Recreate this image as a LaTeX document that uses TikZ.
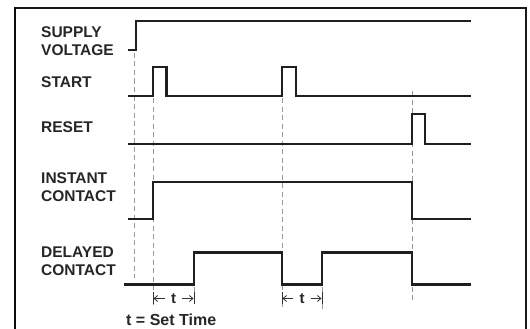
\documentclass[tikz,border=0pt]{standalone}
\usepackage{fontspec}
\setmainfont{Liberation Sans}
\usetikzlibrary{arrows.meta}
\begin{document}
\begin{tikzpicture}[x=1pt,y=-1pt,
  wave/.style={line width=2.4pt, line join=miter, draw=black!88},
  guide/.style={draw=black!40, line width=0.8pt, dash pattern=on 5pt off 3.5pt},
  lbl/.style={font=\bfseries\fontsize{15.5}{15.5}\selectfont, anchor=base west, inner sep=0pt, text=black!85},
  tlbl/.style={font=\bfseries\fontsize{15}{15}\selectfont, inner sep=0pt},
  dimarrow/.style={draw=black!80, line width=0.8pt, -{Straight Barb[length=3.5pt,width=6pt]}},
  tick/.style={draw=black!80, line width=0.8pt}]
\useasboundingbox (0,0) rectangle (530,329);
\fill[white] (0,0) rectangle (530,329);
% frame
\draw[line width=1.4pt, draw=black!90] (15,8) -- (526,8) -- (526,335);
\draw[line width=2.6pt, draw=black!95] (15,7.3) -- (15,335);
% labels
\node[lbl] (l1) at (41,38) {SUPPLY};
\node[lbl] (l2) at (41,55.5) {VOLTAGE};
\node[lbl] (l3) at (41,87) {START};
\node[lbl] (l4) at (41,132.5) {RESET};
\node[lbl] (l5) at (41,183) {INSTANT};
\node[lbl] (l6) at (41,201.5) {CONTACT};
\node[lbl] (l7) at (41,257.5) {DELAYED};
\node[lbl] (l8) at (41,275) {CONTACT};
\node[lbl, font=\bfseries\fontsize{16}{16}\selectfont] (l9) at (126,325) {t = Set Time};
% guides
\draw[guide] (134,53) -- (134,278);
\draw[guide] (153,98) -- (153,305);
\draw[guide] (194,287) -- (194,304);
\draw[guide] (282,98) -- (282,310);
\draw[guide] (322,287) -- (322,310);
\draw[guide] (412,91) -- (412,302);
% waveforms
\draw[wave] (128,50) -- (136,50) -- (136,21) -- (471,21);
\draw[wave] (128,96) -- (153,96) -- (153,67) -- (166.5,67) -- (166.5,96) -- (282,96) -- (282,67) -- (296,67) -- (296,96) -- (471,96);
\draw[wave] (128,144) -- (412,144) -- (412,114) -- (425,114) -- (425,144) -- (471,144);
\draw[wave] (128,219) -- (153,219) -- (153,182) -- (412,182) -- (412,219) -- (471,219);
\draw[wave] (124,284.5) -- (194,284.5) -- (194,252.5) -- (282,252.5) -- (282,284.5) -- (322,284.5) -- (322,252.5) -- (412,252.5) -- (412,284.5) -- (471,284.5);
% set time dimensions
\node[tlbl, text=black!85] (t1) at (173.5,298.5) {t};
\coordinate (a1) at (153.5,298.5);
\coordinate (b1) at (193.5,298.5);
\draw[dimarrow] ([xshift=-6pt]t1.west) -- (a1);
\draw[dimarrow] ([xshift=6pt]t1.east) -- (b1);
\draw[tick] (153,292) -- (153,304);
\draw[tick] (194,292) -- (194,304);
\node[tlbl, text=black!85] (t2) at (302,298.5) {t};
\coordinate (a2) at (282.5,298.5);
\coordinate (b2) at (321.5,298.5);
\draw[dimarrow] ([xshift=-6pt]t2.west) -- (a2);
\draw[dimarrow] ([xshift=6pt]t2.east) -- (b2);
\draw[tick] (282,292) -- (282,304);
\draw[tick] (322,292) -- (322,304);
\end{tikzpicture}
\end{document}
